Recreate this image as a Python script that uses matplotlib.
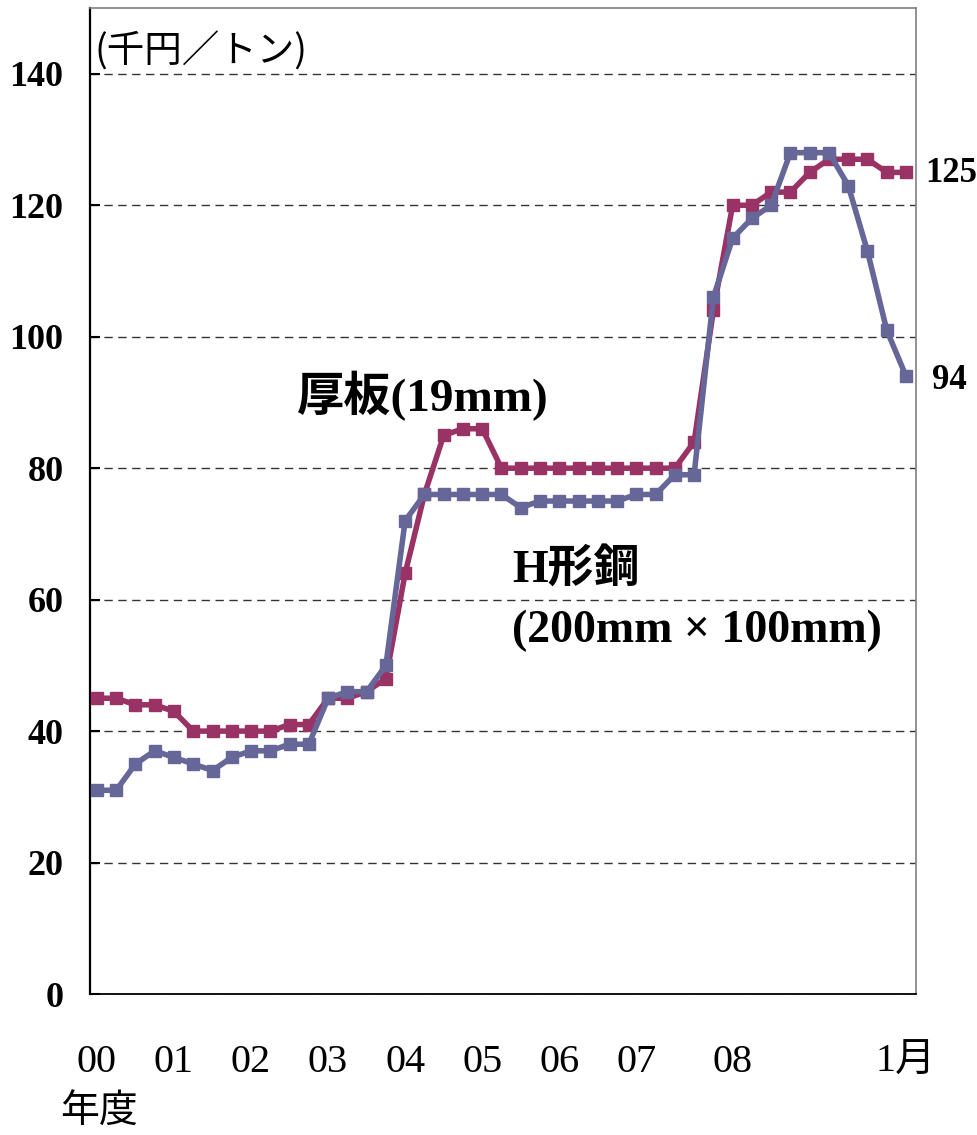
import matplotlib
matplotlib.use('Agg')
import matplotlib.pyplot as plt

# 千円/トン, quarterly from FY2000, monthly toward the end
atsuita = [45, 45, 44, 44, 43, 40, 40, 40, 40, 40, 41, 41,
           45, 45, 46, 48, 64, 76, 85, 86, 86, 80, 80, 80,
           80, 80, 80, 80, 80, 80, 80, 84, 104, 120, 120, 122,
           122, 125, 127, 127, 127, 125, 125]
h_kou = [31, 31, 35, 37, 36, 35, 34, 36, 37, 37, 38, 38,
         45, 46, 46, 50, 72, 76, 76, 76, 76, 76, 74, 75,
         75, 75, 75, 75, 76, 76, 79, 79, 106, 115, 118, 120,
         128, 128, 128, 123, 113, 101, 94]
tick_pos = [0, 4, 8, 12, 16, 20, 24, 28, 33, 42]
tick_labels = ['00', '01', '02', '03', '04', '05', '06', '07', '08', '1月']
yticks = [0, 20, 40, 60, 80, 100, 120, 140]

serif_jp = ['Liberation Serif', 'Noto Sans CJK JP']
RED = '#993366'
BLUE = '#666699'

fig = plt.figure(figsize=(9.77, 11.35), dpi=100)
ax = fig.add_axes([0.0921, 0.1242, 0.8455, 0.8687])

xs = list(range(len(atsuita)))
ax.plot(xs, atsuita, color=RED, lw=4, marker='s', ms=9, zorder=3)
ax.plot(xs, h_kou, color=BLUE, lw=4, marker='s', ms=9, zorder=4)

ax.set_xlim(-0.36, 42.52)
ax.set_ylim(0, 150)

ax.set_yticks(yticks)
ax.set_yticklabels([str(v) for v in yticks], family='Liberation Serif',
                   fontweight='bold', fontsize=26)
ax.set_xticks(tick_pos)
ax.set_xticklabels(tick_labels, family=serif_jp, fontsize=29)
ax.tick_params(axis='y', direction='in', length=7, width=1.5, pad=19)
ax.tick_params(axis='x', length=0, pad=36)

ax.yaxis.grid(True, color='#333333', lw=1, linestyle=(0, (6, 4)))
ax.set_axisbelow(True)

ax.spines['left'].set_linewidth(1.6)
ax.spines['bottom'].set_linewidth(1.3)
ax.spines['top'].set_color('#808080')
ax.spines['right'].set_color('#808080')
ax.spines['top'].set_linewidth(1.2)
ax.spines['right'].set_linewidth(1.2)

ax.text(-0.15, 143.3, '(千円／トン)', family=['Noto Sans CJK JP', 'DejaVu Sans'],
        fontsize=27, ha='left', va='center')
ax.text(10.4, 91.0, '厚板(19mm)', family=serif_jp, fontweight='bold',
        fontsize=34, ha='left', va='center')
ax.text(21.55, 64.4, 'H形鋼', family=serif_jp, fontweight='bold',
        fontsize=33, ha='left', va='center')
ax.text(21.55, 55.3, '(200mm × 100mm)', family=serif_jp, fontweight='bold',
        fontsize=33, ha='left', va='center')
ax.text(43.0, 124.9, '125', family='Liberation Serif', fontweight='bold',
        fontsize=25, ha='left', va='center', clip_on=False)
ax.text(43.35, 93.3, '94', family='Liberation Serif', fontweight='bold',
        fontsize=25, ha='left', va='center', clip_on=False)

fig.text(60 / 977, 1 - 1112 / 1135, '年度', family=['Noto Sans CJK JP', 'DejaVu Sans'],
         fontsize=28, ha='left', va='center')

fig.savefig('out.png', dpi=100)
